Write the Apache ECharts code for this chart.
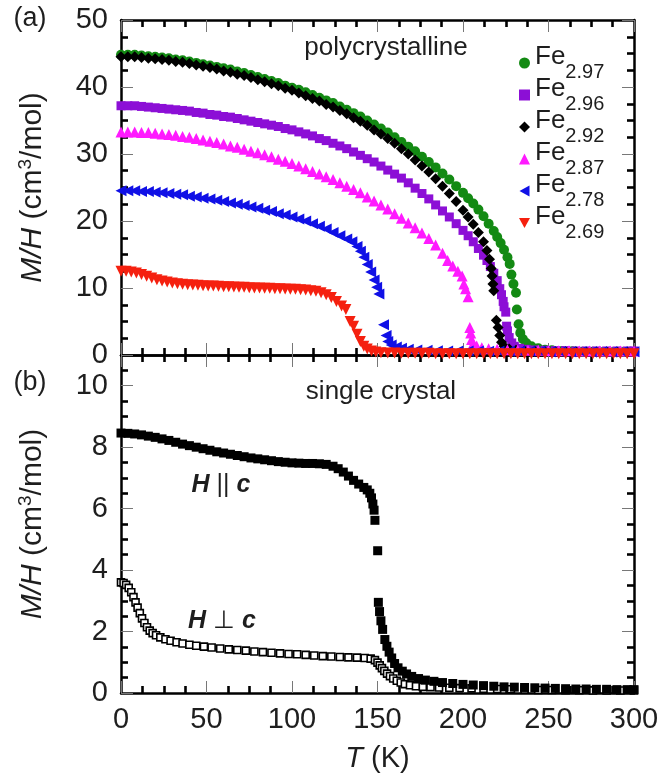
<!DOCTYPE html>
<html>
<head>
<meta charset="utf-8">
<script src="https://cdn.jsdelivr.net/npm/echarts@6/dist/echarts.min.js"></script>
<style>
  html, body { margin: 0; padding: 0; background: #fff; }
  #chart { width: 663px; height: 778px; }
</style>
</head>
<body>
<div id="chart"></div>
<script>
// ---- (a) polycrystalline samples: [T (K), M/H (cm^3/mol)] ----
const fe297 = [[0,44.8],[4,44.8],[8,44.8],[12,44.7],[16,44.6],[20,44.5],[24,44.4],[28,44.3],[32,44.1],[36,44.0],[40,43.8],[44,43.6],[48,43.4],[52,43.2],[56,43.0],[60,42.8],[64,42.6],[68,42.3],[72,42.1],[76,41.8],[80,41.5],[84,41.2],[88,40.9],[92,40.6],[96,40.2],[100,39.9],[104,39.6],[108,39.2],[112,38.8],[116,38.4],[120,38.0],[124,37.6],[128,37.1],[132,36.6],[136,36.1],[140,35.6],[144,35.0],[148,34.4],[152,33.8],[156,33.2],[160,32.5],[164,31.8],[168,31.1],[172,30.4],[176,29.6],[180,28.8],[184,28.0],[188,27.1],[192,26.2],[196,25.2],[200,24.2],[203,23.4],[206,22.6],[209,21.7],[212,20.7],[215,19.6],[218,18.5],[220,17.6],[222,16.7],[224,15.7],[226,14.6],[227.3,13.6],[228.3,12.0],[229.5,10.6],[231,9.3],[231.5,6.8],[232.5,4.6],[233.5,3.3],[235,2.4],[237,1.8],[240,1.3],[244,1.0],[248,0.8],[252,0.7],[258,0.6],[264,0.55],[270,0.5],[276,0.5],[282,0.45],[288,0.45],[294,0.45],[300,0.45]];

const fe296 = [[0,37.2],[4,37.2],[8,37.2],[12,37.1],[16,37.0],[20,36.9],[24,36.8],[28,36.7],[32,36.6],[36,36.5],[40,36.4],[44,36.2],[48,36.1],[52,35.9],[56,35.8],[60,35.6],[64,35.5],[68,35.3],[72,35.1],[76,34.9],[80,34.7],[84,34.5],[88,34.3],[92,34.1],[96,33.8],[100,33.6],[104,33.3],[108,33.0],[112,32.7],[116,32.3],[120,32.0],[124,31.6],[128,31.2],[132,30.8],[136,30.3],[140,29.8],[144,29.3],[148,28.8],[152,28.2],[156,27.6],[160,27.0],[164,26.4],[168,25.7],[172,24.9],[176,24.1],[180,23.3],[184,22.4],[188,21.5],[192,20.6],[196,19.6],[200,18.6],[203,17.8],[206,16.9],[209,15.9],[212,14.9],[214,14.1],[216,13.2],[218,12.2],[220,11.1],[221.5,9.9],[222.5,9.0],[223.5,8.0],[224,7.2],[225,6.4],[225.5,4.3],[226,3.6],[227,2.6],[228.5,1.8],[230,1.3],[233,1.0],[237,0.85],[242,0.75],[248,0.7],[254,0.65],[260,0.65],[266,0.6],[272,0.6],[278,0.6],[284,0.6],[290,0.6],[296,0.6],[300,0.6]];

const fe292 = [[0,44.5],[4,44.5],[8,44.5],[12,44.4],[16,44.3],[20,44.2],[24,44.1],[28,44.0],[32,43.8],[36,43.7],[40,43.5],[44,43.3],[48,43.1],[52,42.9],[56,42.7],[60,42.4],[64,42.2],[68,41.9],[72,41.7],[76,41.4],[80,41.1],[84,40.8],[88,40.5],[92,40.2],[96,39.8],[100,39.5],[104,39.1],[108,38.7],[112,38.3],[116,37.9],[120,37.4],[124,37.0],[128,36.5],[132,36.0],[136,35.4],[140,34.9],[144,34.3],[148,33.6],[152,33.0],[156,32.3],[160,31.6],[164,30.8],[168,30.0],[172,29.1],[176,28.2],[180,27.3],[184,26.3],[188,25.2],[192,24.1],[196,22.9],[200,21.6],[203,20.6],[206,19.5],[209,18.3],[212,16.9],[214,15.6],[215.5,14.3],[216.5,12.9],[217,11.8],[217.5,10.6],[218,9.6],[219.5,5.2],[220.5,4.1],[221.5,2.9],[222.5,1.9],[224,1.3],[227,0.9],[231,0.7],[236,0.6],[242,0.55],[248,0.5],[254,0.5],[260,0.5],[266,0.5],[272,0.45],[278,0.45],[284,0.45],[290,0.45],[296,0.45],[300,0.45]];

const fe287 = [[0,33.3],[4,33.3],[8,33.3],[12,33.2],[16,33.2],[20,33.1],[24,33.0],[28,32.9],[32,32.8],[36,32.6],[40,32.5],[44,32.3],[48,32.1],[52,31.9],[56,31.7],[60,31.5],[64,31.2],[68,31.0],[72,30.7],[76,30.4],[80,30.2],[84,29.9],[88,29.6],[92,29.2],[96,28.9],[100,28.6],[104,28.2],[108,27.8],[112,27.4],[116,27.0],[120,26.6],[124,26.2],[128,25.7],[132,25.2],[136,24.7],[140,24.2],[144,23.6],[148,23.0],[152,22.4],[156,21.8],[160,21.1],[164,20.4],[168,19.7],[172,19.0],[176,18.2],[180,17.4],[184,16.4],[188,15.2],[191,14.1],[194,13.3],[197,12.5],[199.5,11.8],[200.5,10.6],[201.5,9.9],[203,8.7],[204,4.1],[204.5,3.3],[205,2.3],[206,1.7],[208,1.35],[211,1.1],[215,0.95],[220,0.85],[226,0.8],[232,0.75],[238,0.7],[244,0.7],[250,0.65],[256,0.65],[262,0.65],[268,0.6],[274,0.6],[280,0.6],[286,0.6],[292,0.6],[300,0.6]];

const fe278 = [[0,24.5],[4,24.5],[8,24.5],[12,24.4],[16,24.4],[20,24.3],[24,24.2],[28,24.1],[32,24.0],[36,23.9],[40,23.7],[44,23.6],[48,23.4],[52,23.3],[56,23.1],[60,22.9],[64,22.7],[68,22.5],[72,22.3],[76,22.1],[80,21.9],[84,21.6],[88,21.4],[92,21.1],[96,20.9],[100,20.6],[104,20.3],[108,20.0],[112,19.6],[116,19.2],[120,18.8],[124,18.3],[128,17.8],[132,17.3],[135,16.9],[138,16.2],[140,15.5],[142,14.6],[144,13.5],[146,12.4],[148,11.2],[149.5,10.1],[150.8,9.1],[153.5,4.5],[155,2.9],[156,2.0],[158,1.5],[161,1.2],[164,1.0],[168,0.85],[173,0.75],[179,0.7],[185,0.65],[191,0.6],[197,0.6],[203,0.6],[209,0.6],[215,0.55],[221,0.55],[227,0.55],[233,0.55],[239,0.55],[245,0.55],[251,0.5],[257,0.5],[263,0.5],[269,0.5],[275,0.5],[281,0.5],[287,0.5],[293,0.5],[300,0.5]];

const fe269 = [[0,12.5],[3,12.5],[6,12.4],[9,12.25],[12,12.0],[15,11.75],[18,11.5],[21,11.25],[24,11.05],[27,10.9],[30,10.75],[33,10.65],[36,10.55],[39,10.5],[42,10.45],[45,10.4],[48,10.35],[51,10.3],[54,10.3],[57,10.25],[60,10.2],[63,10.2],[66,10.15],[69,10.1],[72,10.1],[75,10.05],[78,10.0],[81,10.0],[84,9.95],[87,9.95],[90,9.9],[93,9.9],[96,9.85],[99,9.8],[102,9.8],[105,9.75],[108,9.7],[111,9.6],[114,9.5],[117,9.3],[120,9.0],[123,8.6],[126,8.0],[129,7.3],[131.5,6.8],[134,5.0],[136,4.3],[138,3.1],[140,2.0],[142,1.3],[144,0.9],[146.5,0.6],[149,0.45],[152,0.35],[156,0.3],[160,0.3],[164,0.25],[168,0.25],[172,0.25],[176,0.25],[180,0.25],[184,0.2],[188,0.2],[192,0.2],[196,0.2],[200,0.2],[204,0.2],[208,0.2],[212,0.2],[216,0.2],[220,0.2],[224,0.2],[228,0.2],[232,0.2],[236,0.2],[240,0.2],[244,0.2],[248,0.2],[252,0.2],[256,0.2],[260,0.2],[264,0.2],[268,0.2],[272,0.2],[276,0.2],[280,0.2],[284,0.2],[288,0.2],[292,0.2],[296,0.2],[300,0.2]];

// ---- (b) single crystal: [T (K), M/H (cm^3/mol)] ----
const hParallelC = [[0,8.46],[4,8.45],[8,8.43],[12,8.40],[16,8.36],[20,8.32],[24,8.27],[28,8.22],[32,8.16],[36,8.10],[40,8.05],[44,8.00],[48,7.95],[52,7.90],[56,7.85],[60,7.81],[64,7.77],[68,7.73],[72,7.69],[76,7.65],[80,7.62],[84,7.59],[88,7.56],[92,7.53],[96,7.51],[100,7.49],[104,7.48],[108,7.47],[112,7.47],[116,7.46],[120,7.44],[124,7.38],[127,7.30],[130,7.19],[133,7.06],[136,6.92],[139,6.80],[142,6.69],[144,6.61],[145.5,6.50],[146.5,6.35],[147.3,6.15],[148,5.95],[148.5,5.62],[150.1,4.63],[150.5,2.95],[151.2,2.65],[152,2.35],[153,2.07],[154.3,1.74],[155.5,1.52],[156.8,1.33],[158.3,1.14],[160,0.96],[162,0.82],[164.5,0.71],[167,0.62],[170,0.54],[174,0.47],[178,0.42],[183,0.38],[188,0.34],[194,0.31],[200,0.28],[206,0.26],[212,0.24],[218,0.22],[224,0.2],[230,0.19],[236,0.18],[242,0.17],[248,0.16],[254,0.15],[260,0.14],[266,0.13],[272,0.13],[278,0.12],[284,0.12],[290,0.11],[296,0.11],[300,0.11]];

const hPerpC = [[0,3.60],[1.5,3.58],[3,3.52],[4.5,3.42],[6,3.28],[7.3,3.12],[8.5,2.95],[9.7,2.78],[11,2.60],[12.3,2.43],[13.7,2.28],[15.2,2.14],[16.8,2.03],[18.5,1.95],[20.5,1.88],[23,1.81],[26,1.75],[29,1.70],[32.5,1.65],[36,1.61],[40,1.57],[44,1.54],[48.5,1.51],[53,1.48],[58,1.45],[63,1.42],[68,1.40],[73,1.38],[78,1.35],[83,1.33],[88,1.31],[93,1.29],[98,1.27],[103,1.26],[108,1.24],[113,1.22],[118,1.20],[123,1.19],[128,1.17],[133,1.16],[138,1.15],[142.5,1.14],[146,1.12],[148.5,1.07],[150,0.99],[151.3,0.90],[152.6,0.81],[154,0.72],[155.6,0.63],[157.3,0.55],[159.2,0.47],[161.3,0.40],[163.6,0.34],[166,0.29],[169,0.25],[172.5,0.22],[176.5,0.2],[181,0.19],[186,0.18],[192,0.17],[198,0.16],[205,0.15],[212,0.14],[220,0.13],[228,0.12],[236,0.11],[244,0.1],[252,0.1],[260,0.09],[268,0.09],[276,0.08],[284,0.08],[292,0.08],[300,0.08]];

// legend names (composition) in drawing order
const sampleNames = ['Fe2.97', 'Fe2.96', 'Fe2.92', 'Fe2.87', 'Fe2.78', 'Fe2.69'];
const sampleData = [fe297, fe296, fe292, fe287, fe278, fe269];
const sampleColors = ['#138a13', '#8c0fd6', '#000000', '#ff1aff', '#1010e6', '#f5200f'];
const sampleSymbols = ['circle', 'rect', 'diamond', 'triangle', 'triangle', 'triangle'];
const sampleRotate = [0, 0, 0, 0, 90, 180];
const sampleSizes = [10, 9, 11, 11, 11, 11];
// legend icons (left- and down-pointing triangles drawn as paths)
const legendIcons = ['circle', 'rect', 'diamond', 'triangle',
  'path://M10,0L0,5.5L10,11Z', 'path://M0,0L11,0L5.5,10Z'];

// bottom-panel minor tick positions (every 0.5 between the labelled majors)
const crystalMinorTicks = [0.5,1,1.5,2.5,3,3.5,4.5,5,5.5,6.5,7,7.5,8.5,9,9.5,10.5];

const FONT = 'Liberation Sans, Arial, Helvetica, sans-serif';
const TEXT = '#1e1e1e';
const TICK_FONT = 29;

const chart = echarts.init(document.getElementById('chart'), null, { renderer: 'canvas' });

const majorTick = { show: true, inside: true, length: 12, lineStyle: { color: '#777', width: 1 } };
const minorTickStyle = { show: true, length: 7, lineStyle: { color: '#000', width: 2.6 } };
const frameLine = { show: true, onZero: false, lineStyle: { color: '#000', width: 2.5 } };

function tempAxis(grid, position, withLabels) {
  const ax = {
    type: 'value', gridIndex: grid, position: position,
    min: 0, max: 300, interval: 50,
    axisLine: frameLine,
    axisTick: majorTick,
    minorTick: Object.assign({ splitNumber: 4 }, minorTickStyle),
    splitLine: { show: false }, minorSplitLine: { show: false },
    axisLabel: { show: withLabels, fontSize: TICK_FONT, color: TEXT, fontFamily: FONT, margin: 12 }
  };
  if (withLabels) {
    ax.name = '{i|T} (K)';
    ax.nameLocation = 'middle';
    ax.nameGap = 51;
    ax.nameTextStyle = {
      fontSize: 29, color: TEXT, fontFamily: FONT,
      rich: { i: { fontSize: 29, fontStyle: 'italic', color: TEXT, fontFamily: FONT } }
    };
  }
  return ax;
}

const yName = '{i|M/H} (cm{sup|3}/mol)';
const yNameStyle = {
  fontSize: 30, color: TEXT, fontFamily: FONT, lineHeight: 34,
  rich: {
    i: { fontSize: 30, fontStyle: 'italic', color: TEXT, fontFamily: FONT, lineHeight: 34 },
    sup: { fontSize: 19, color: TEXT, fontFamily: FONT, verticalAlign: 'top', lineHeight: 18 }
  }
};

function minorOnlyAxis(position) {
  return {
    type: 'value', gridIndex: 2, position: position, min: 0, max: 11, interval: 0.5,
    axisLine: { show: false }, splitLine: { show: false }, axisLabel: { show: false },
    axisTick: { show: true, inside: true, length: 7, customValues: crystalMinorTicks,
                lineStyle: { color: '#000', width: 2.6 } }
  };
}

const yAxes = [
  // (a) left: labels, majors every 10, minors every 2.5
  {
    type: 'value', gridIndex: 0, position: 'left', min: 0, max: 50, interval: 10,
    axisLine: frameLine, axisTick: majorTick,
    minorTick: Object.assign({ splitNumber: 4 }, minorTickStyle),
    splitLine: { show: false },
    axisLabel: { fontSize: TICK_FONT, color: TEXT, fontFamily: FONT, margin: 13 },
    name: yName, nameLocation: 'middle', nameGap: 71, nameTextStyle: yNameStyle
  },
  // (a) right frame
  {
    type: 'value', gridIndex: 0, position: 'right', min: 0, max: 50, interval: 10,
    axisLine: frameLine, axisTick: majorTick,
    minorTick: Object.assign({ splitNumber: 4 }, minorTickStyle),
    splitLine: { show: false }, axisLabel: { show: false }
  },
  // (b) left: labels and majors every 2
  {
    type: 'value', gridIndex: 1, position: 'left', min: 0, max: 11, interval: 2,
    axisLine: frameLine, axisTick: majorTick, splitLine: { show: false },
    axisLabel: { fontSize: TICK_FONT, color: TEXT, fontFamily: FONT, margin: 13, showMaxLabel: false },
    name: yName, nameLocation: 'middle', nameGap: 71, nameTextStyle: yNameStyle
  },
  // (b) right frame
  {
    type: 'value', gridIndex: 1, position: 'right', min: 0, max: 11, interval: 2,
    axisLine: frameLine, axisTick: majorTick, splitLine: { show: false },
    axisLabel: { show: false }
  },
  // (b) minor ticks on an overlaid grid, left and right
  minorOnlyAxis('left'),
  minorOnlyAxis('right')
];

const series = sampleNames.map((name, i) => ({
  name: name,
  type: 'scatter',
  xAxisIndex: 0, yAxisIndex: 0,
  data: sampleData[i],
  symbol: sampleSymbols[i],
  symbolRotate: sampleRotate[i],
  symbolSize: sampleSizes[i],
  itemStyle: { color: sampleColors[i], opacity: 1 },
  clip: false,
  silent: true
}));

series.push({
  name: 'H perp c', type: 'scatter', xAxisIndex: 2, yAxisIndex: 2,
  data: hPerpC, symbol: 'rect', symbolSize: 7,
  itemStyle: { color: '#fff', borderColor: '#000', borderWidth: 1.6, opacity: 1 },
  clip: false, silent: true
});
series.push({
  name: 'H par c', type: 'scatter', xAxisIndex: 2, yAxisIndex: 2,
  data: hParallelC, symbol: 'rect', symbolSize: 9,
  itemStyle: { color: '#000', opacity: 1 },
  clip: false, silent: true
});

const option = {
  animation: false,
  backgroundColor: '#fff',
  textStyle: { fontFamily: FONT },
  grid: [
    { left: 121, right: 29, top: 20, height: 335 },
    { left: 121, right: 29, top: 355, height: 338 },
    { left: 121, right: 29, top: 355, height: 338 }
  ],
  xAxis: [
    tempAxis(0, 'bottom', false),
    tempAxis(0, 'top', false),
    tempAxis(1, 'bottom', true),
    tempAxis(1, 'top', false),
    { type: 'value', gridIndex: 2, min: 0, max: 300, show: false }
  ],
  yAxis: yAxes,
  legend: {
    data: sampleNames.map((n, i) => ({ name: n, icon: legendIcons[i] })),
    orient: 'vertical',
    left: 514, top: 39,
    itemWidth: 11, itemHeight: 11,
    itemGap: -6,
    selectedMode: false,
    formatter: (name) => '{fe|Fe}{sub|' + name.slice(2) + '}',
    textStyle: {
      color: TEXT, fontFamily: FONT,
      rich: {
        fe: { fontSize: 26, verticalAlign: 'top', color: TEXT, fontFamily: FONT },
        sub: { fontSize: 20, verticalAlign: 'bottom', padding: [18, 0, 0, 0], color: TEXT, fontFamily: FONT }
      }
    }
  },
  graphic: [
    { type: 'text', x: 30, y: 19, style: { text: '(a)', fontSize: 27, fontFamily: FONT, fill: TEXT, align: 'center', verticalAlign: 'middle' } },
    { type: 'text', x: 30, y: 383, style: { text: '(b)', fontSize: 27, fontFamily: FONT, fill: TEXT, align: 'center', verticalAlign: 'middle' } },
    { type: 'text', x: 386, y: 48, style: { text: 'polycrystalline', fontSize: 26, fontFamily: FONT, fill: TEXT, align: 'center', verticalAlign: 'middle' } },
    { type: 'text', x: 381, y: 392, style: { text: 'single crystal', fontSize: 26, fontFamily: FONT, fill: TEXT, align: 'center', verticalAlign: 'middle' } },
    { type: 'text', x: 221, y: 485, style: {
        text: '{b|H} || {b|c}', fontSize: 25, fontFamily: FONT, fill: TEXT, align: 'center', verticalAlign: 'middle',
        rich: { b: { fontSize: 25, fontWeight: 'bold', fontStyle: 'italic', fontFamily: FONT, fill: TEXT } } } },
    { type: 'text', x: 222, y: 621, style: {
        text: '{b|H} \u22a5 {b|c}', fontSize: 25, fontFamily: FONT, fill: TEXT, align: 'center', verticalAlign: 'middle',
        rich: { b: { fontSize: 25, fontWeight: 'bold', fontStyle: 'italic', fontFamily: FONT, fill: TEXT } } } }
  ],
  series: series
};

chart.setOption(option);
</script>
</body>
</html>
